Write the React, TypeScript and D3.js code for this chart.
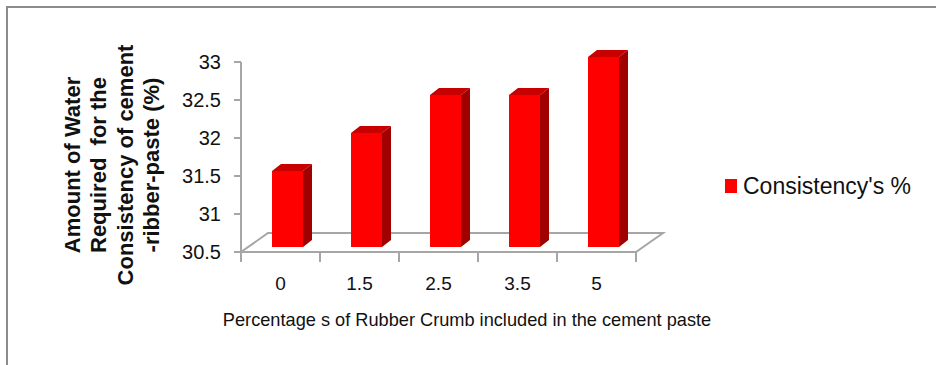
import React from "react";
import * as d3 from "d3";

// Rubber crumb content (%) and water needed for standard consistency (%)
const categories: string[] = ["0", "1.5", "2.5", "3.5", "5"];
const consistency: number[] = [31.5, 32, 32.5, 32.5, 33];
const yTicks: number[] = [30.5, 31, 31.5, 32, 32.5, 33];
const yTitleLines: string[] = [
  "Amount of Water",
  "Required  for the",
  "Consistency of cement",
  "-ribber-paste (%)",
];
const xTitle = "Percentage s of Rubber Crumb included in the cement paste";
const seriesName = "Consistency's %";

const W = 936;
const H = 365;
const FONT = "'Liberation Sans', Arial, sans-serif";

export default function App() {
  const x = d3.scaleBand<string>().domain(categories).range([241, 636]).padding(0);
  const y = d3.scaleLinear().domain([30.5, 33]).range([252, 62]);

  // floor depth offset and bar placement inside the depth
  const floorDx = 27;
  const floorDy = -19;
  const barOffX = 7;
  const barOffY = -5;
  const barDx = 9;
  const barDy = -7;
  const barW = 31;

  const y0 = y(30.5);
  const xL = x.range()[0];
  const xR = x.range()[1];
  const edges = [...categories.map((c) => x(c) as number), xR];

  const axisColor = "#a6a6a6";

  const line = d3.line();

  return (
    <svg
      width={W}
      height={H}
      style={{ position: "absolute", left: 0, top: 0, background: "#fff" }}
    >
      {/* outer frame */}
      <path d={`M7,${H} L7,7 L${W},7`} fill="none" stroke="#8c8c8c" strokeWidth={2} />

      {/* floor */}
      <path
        d={
          line([
            [xL, y0],
            [xR, y0],
            [xR + floorDx, y0 + floorDy],
            [xL + floorDx, y0 + floorDy],
          ]) + "Z"
        }
        fill="none"
        stroke={axisColor}
        strokeWidth={2}
      />

      {/* value axis */}
      <line x1={xL} x2={xL} y1={y(33)} y2={y0} stroke={axisColor} strokeWidth={2} />
      {yTicks.map((t) => (
        <g key={t}>
          <line x1={xL - 7} x2={xL} y1={y(t)} y2={y(t)} stroke={axisColor} strokeWidth={2} />
          <text
            x={221}
            y={y(t)}
            textAnchor="end"
            dominantBaseline="central"
            fontFamily={FONT}
            fontSize={20}
            fill="#111"
          >
            {t}
          </text>
        </g>
      ))}

      {/* category ticks and labels */}
      {edges.map((e, i) => (
        <line key={i} x1={e} x2={e} y1={y0} y2={y0 + 10} stroke={axisColor} strokeWidth={2} />
      ))}
      {categories.map((c) => (
        <text
          key={c}
          x={(x(c) as number) + x.bandwidth() / 2}
          y={283}
          textAnchor="middle"
          dominantBaseline="central"
          fontFamily={FONT}
          fontSize={19}
          fill="#111"
        >
          {c}
        </text>
      ))}

      {/* bars */}
      {categories.map((c, i) => {
        const cx = (x(c) as number) + x.bandwidth() / 2 + barOffX;
        const l = cx - barW / 2;
        const r = cx + barW / 2;
        const top = y(consistency[i]) + barOffY;
        const bot = y0 + barOffY;
        return (
          <g key={c}>
            <path
              d={
                line([
                  [r, bot],
                  [r, top],
                  [r + barDx, top + barDy],
                  [r + barDx, bot + barDy],
                ]) + "Z"
              }
              fill="#a00000"
            />
            <path
              d={
                line([
                  [l, top],
                  [l + barDx, top + barDy],
                  [r + barDx, top + barDy],
                  [r, top],
                ]) + "Z"
              }
              fill="#c80000"
            />
            <rect x={l} y={top} width={barW} height={bot - top} fill="#ff0000" />
          </g>
        );
      })}

      {/* value axis title */}
      <text
        transform="translate(112,165) rotate(-90)"
        textAnchor="middle"
        fontFamily={FONT}
        fontWeight="bold"
        fontSize={22}
        fill="#111"
        style={{ whiteSpace: "pre" }}
      >
        {yTitleLines.map((s, i) => (
          <tspan key={i} x={0} y={(i - 1.5) * 26.5} dominantBaseline="central">
            {s}
          </tspan>
        ))}
      </text>

      {/* category axis title */}
      <text
        x={467}
        y={320}
        textAnchor="middle"
        dominantBaseline="central"
        fontFamily={FONT}
        fontSize={18.2}
        fill="#111"
      >
        {xTitle}
      </text>

      {/* legend */}
      <rect x={725} y={179} width={12} height={14} fill="#ff0000" />
      <text
        x={743}
        y={186}
        dominantBaseline="central"
        fontFamily={FONT}
        fontSize={23}
        fill="#111"
      >
        {seriesName}
      </text>
    </svg>
  );
}
